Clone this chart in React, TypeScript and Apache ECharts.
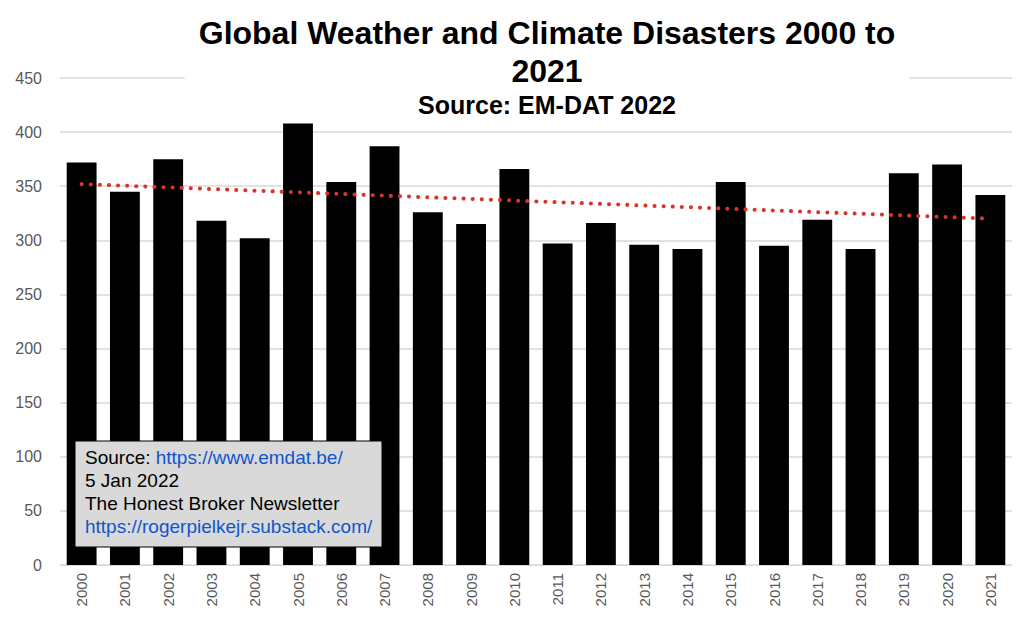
import { useEffect, useRef } from "react"
import * as echarts from "echarts"

const years = [
  "2000", "2001", "2002", "2003", "2004", "2005", "2006", "2007", "2008", "2009", "2010",
  "2011", "2012", "2013", "2014", "2015", "2016", "2017", "2018", "2019", "2020", "2021",
]
const disasters = [
  372, 345, 375, 318, 302, 408, 354, 387, 326, 315, 366,
  297, 316, 296, 292, 354, 295, 319, 292, 362, 370, 342,
]
// linear trend endpoints (2000 and 2021)
const trend = [352, ...Array(20).fill(null), 320]

export default function App() {
  const chartRef = useRef<HTMLDivElement>(null)

  useEffect(() => {
    if (!chartRef.current) return
    const chart = echarts.init(chartRef.current, undefined, { renderer: "svg" })
    const font = "Liberation Sans, Arial, sans-serif"
    chart.setOption({
      animation: false,
      backgroundColor: "#fff",
      title: {
        text: "Global Weather and Climate Disasters 2000 to\n2021",
        subtext: "Source: EM-DAT 2022",
        left: 533,
        textAlign: "center",
        top: 10,
        itemGap: 2,
        padding: [4, 14, 6, 14],
        backgroundColor: "#fff",
        textStyle: { fontFamily: font, fontSize: 32, fontWeight: "bold", color: "#000", lineHeight: 38 },
        subtextStyle: { fontFamily: font, fontSize: 25, fontWeight: "bold", color: "#000" },
      },
      grid: { left: 60, right: 12, top: 78, bottom: 60 },
      xAxis: {
        type: "category",
        data: years,
        axisTick: { show: false },
        axisLine: { lineStyle: { color: "#d9d9d9" } },
        axisLabel: { rotate: 90, color: "#595959", fontSize: 15, fontFamily: font, margin: 8 },
      },
      yAxis: {
        type: "value",
        min: 0,
        max: 450,
        interval: 50,
        axisLabel: { color: "#595959", fontSize: 16, fontFamily: font, margin: 18 },
        splitLine: { lineStyle: { color: "#d9d9d9", width: 1.5 } },
      },
      series: [
        {
          type: "bar",
          data: disasters,
          barCategoryGap: "31%",
          itemStyle: { color: "#000" },
        },
        {
          type: "line",
          data: trend,
          connectNulls: true,
          symbol: "none",
          z: 5,
          lineStyle: { color: "#d9342b", width: 4, type: [0.1, 9], cap: "round" },
        },
      ],
      graphic: [
        {
          type: "rect",
          shape: { x: 75, y: 441, width: 307, height: 106 },
          style: { fill: "#d9d9d9", stroke: "#000", lineWidth: 1 },
          z: 10,
        },
        {
          type: "text",
          x: 85,
          y: 446,
          z: 11,
          style: {
            text: "{a|Source: }{l|https://www.emdat.be/}\n{a|5 Jan 2022}\n{a|The Honest Broker Newsletter}\n{l|https://rogerpielkejr.substack.com/}",
            fontFamily: font,
            fontSize: 19,
            lineHeight: 23,
            rich: {
              a: { fontFamily: font, fontSize: 19, fill: "#000", lineHeight: 23 },
              l: { fontFamily: font, fontSize: 19, fill: "#1155cc", lineHeight: 23, textDecoration: "underline" },
            },
          },
        },
      ],
    })
    return () => chart.dispose()
  }, [])

  return (
    <div
      ref={chartRef}
      style={{ position: "fixed", left: 0, top: 0, width: 1024, height: 625 }}
    />
  )
}
